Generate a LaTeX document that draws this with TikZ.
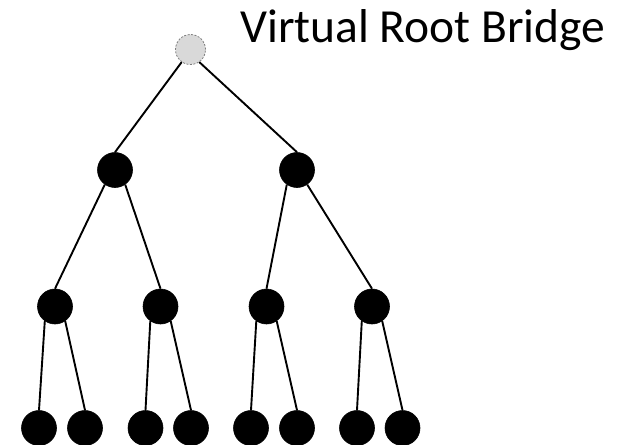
\documentclass[tikz,border=0pt]{standalone}
\usepackage{fontspec}
\setmainfont{Carlito}
\definecolor{rootfill}{HTML}{D9D9D9}
\definecolor{rootline}{HTML}{7F7F7F}
\begin{document}
\begin{tikzpicture}[x=1pt,y=-1pt,
  bnode/.style={circle,fill=black,draw=black,line width=0.6pt,minimum size=35pt,inner sep=0pt},
  rnode/.style={circle,fill=rootfill,draw=rootline,dash pattern=on 2pt off 1.5pt,line width=0.8pt,minimum size=30pt,inner sep=0pt},
  edge/.style={line width=1.9pt,black}]
\useasboundingbox (0,0) rectangle (617,444);
\node[rnode] (r) at (190.5,49.5) {};
\node[bnode] (a) at (115,170) {};
\node[bnode] (b) at (297,170) {};
\node[bnode] (a1) at (55,306.5) {};
\node[bnode] (a2) at (160.5,306.5) {};
\node[bnode] (b1) at (266.5,306.5) {};
\node[bnode] (b2) at (372,306.5) {};
\node[bnode] (l1) at (39,428) {};
\node[bnode] (l2) at (85,428) {};
\node[bnode] (l3) at (145.5,428) {};
\node[bnode] (l4) at (191,428) {};
\node[bnode] (l5) at (251,428) {};
\node[bnode] (l6) at (297,428) {};
\node[bnode] (l7) at (357,428) {};
\node[bnode] (l8) at (402.5,428) {};
\draw[edge] (r.-125) -- (a.north);
\draw[edge] (r.-55) -- (b.north);
\draw[edge] (a.-125) -- (a1.north);
\draw[edge] (a.-55) -- (a2.north);
\draw[edge] (b.-125) -- (b1.north);
\draw[edge] (b.-55) -- (b2.north);
\draw[edge] (a1.-125) -- (l1.north);
\draw[edge] (a1.-55) -- (l2.north);
\draw[edge] (a2.-125) -- (l3.north);
\draw[edge] (a2.-55) -- (l4.north);
\draw[edge] (b1.-125) -- (l5.north);
\draw[edge] (b1.-55) -- (l6.north);
\draw[edge] (b2.-125) -- (l7.north);
\draw[edge] (b2.-55) -- (l8.north);
\node[anchor=base west,inner sep=0pt,font=\fontsize{47.5}{52}\selectfont] (t) at (240,43) {Virtual Root Bridge};
\end{tikzpicture}
\end{document}
